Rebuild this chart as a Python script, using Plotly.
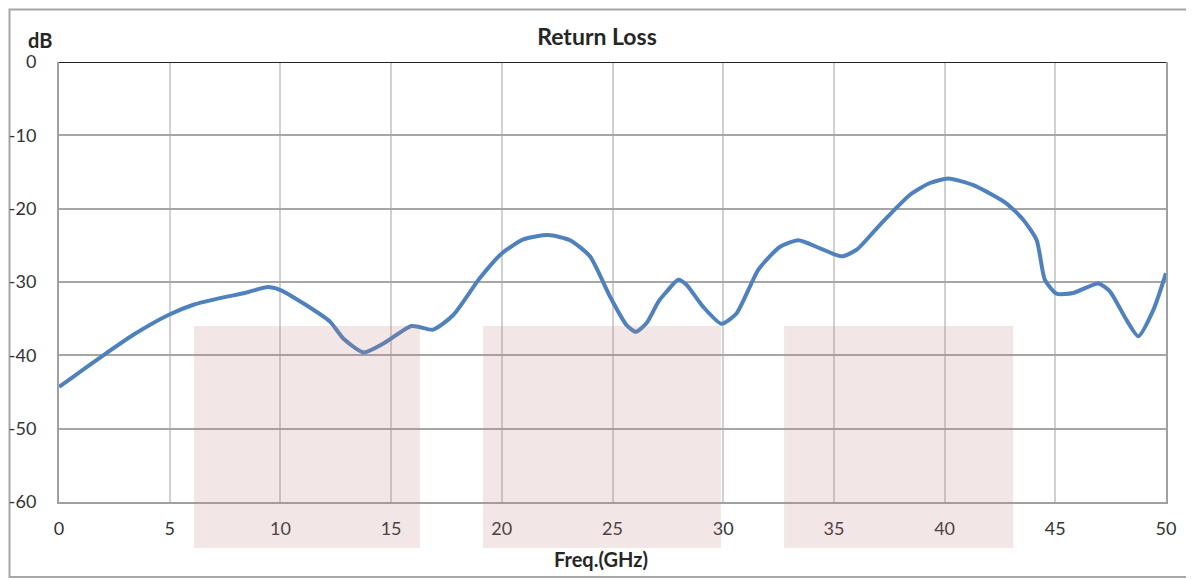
import plotly.graph_objects as go

# Curve data (GHz, dB)
freq = [0.0, 0.42, 2.0, 3.36, 4.94, 6.07, 7.42, 8.4, 9.38, 10.0, 11.03, 12.24, 12.84, 13.75,
        14.65, 15.93, 16.9, 17.81, 19.0, 20.0, 20.97, 22.1, 23.08, 23.98, 24.89, 25.64,
        26.06, 26.54, 27.07, 27.45, 27.97, 28.35, 29.1, 29.93, 30.6, 31.59, 32.57, 33.4,
        34.37, 35.35, 36.03, 37.08, 38.44, 39.34, 40.17, 41.3, 42.8, 43.55, 44.16, 44.53,
        45.06, 45.81, 46.94, 47.47, 48.22, 48.75, 49.43, 50.0]
return_loss = [-44.3, -43.4, -40.0, -37.2, -34.5, -33.1, -32.1, -31.5, -30.7, -31.1, -32.9,
               -35.4, -37.7, -39.6, -38.4, -36.0, -36.5, -34.5, -29.5, -26.1, -24.2, -23.6,
               -24.3, -26.5, -32.0, -35.9, -36.8, -35.6, -32.7, -31.3, -29.7, -30.4, -33.4,
               -35.7, -34.3, -28.3, -25.2, -24.3, -25.4, -26.5, -25.6, -22.2, -18.1, -16.5,
               -15.9, -16.8, -19.3, -21.5, -24.3, -29.7, -31.6, -31.5, -30.2, -31.3, -35.2,
               -37.4, -33.8, -28.8]

# Shaded bands (GHz start, GHz end)
band_start = [6.1, 19.15, 32.75]
band_end = [16.3, 29.9, 43.1]
band_top = -36.0

x_ticks = [0, 5, 10, 15, 20, 25, 30, 35, 40, 45, 50]
y_ticks = [0, -10, -20, -30, -40, -50, -60]

Y_MIN, Y_MAX = -60, 0
FONT = "Lato"
PAGE_OFF = 8  # default body margin of the html page
W, H = 1194 - PAGE_OFF, 580 - PAGE_OFF
PL, PR, PT, PB = 59, 1166, 62, 502  # plot area in page pixels
PW, PH = PR - PL, PB - PT


def px(xp):
    return (xp - PL) / PW


def py(yp):
    return (PB - yp) / PH


fig = go.Figure()
fig.add_trace(go.Scatter(
    x=freq, y=return_loss, mode="lines",
    line=dict(color="#4F81BD", width=4, shape="spline", smoothing=0.6),
    hoverinfo="x+y", showlegend=False,
))

shapes = []
top_paper = (band_top - Y_MIN) / (Y_MAX - Y_MIN)
for s, e in zip(band_start, band_end):
    shapes.append(dict(type="rect", xref="x", yref="paper", x0=s, x1=e,
                       y0=py(548), y1=top_paper,
                       fillcolor="rgba(192,128,128,0.2)", line=dict(width=0), layer="above"))
shapes.append(dict(type="line", xref="paper", yref="y", x0=0, x1=1, y0=0, y1=0,
                   line=dict(color="#222222", width=2.2)))
shapes.append(dict(type="rect", xref="paper", yref="paper",
                   x0=px(9.5), x1=px(1191), y0=py(577), y1=py(9.5),
                   line=dict(color="#A6A6A6", width=2), fillcolor="rgba(0,0,0,0)", layer="below"))

fig.update_layout(
    width=W, height=H,
    margin=dict(l=PL - PAGE_OFF, r=1194 - PR, t=PT - PAGE_OFF, b=580 - PB, autoexpand=False),
    paper_bgcolor="white", plot_bgcolor="white",
    font=dict(family=FONT, size=18, color="#262626"),
    shapes=shapes,
    title=dict(text="<b>Return Loss</b>", x=px(597), xref="paper", xanchor="center",
               y=1 - (37 - PAGE_OFF) / H, yanchor="middle",
               font=dict(size=23, family=FONT, color="#262626")),
    annotations=[
        dict(text="<b>dB</b>", xref="paper", yref="paper", x=px(40), y=py(40),
             xanchor="center", yanchor="middle", showarrow=False,
             font=dict(size=20, family=FONT, color="#262626")),
        dict(text="<b>Freq.(GHz)</b>", xref="paper", yref="paper", x=px(601), y=py(559),
             xanchor="center", yanchor="middle", showarrow=False,
             font=dict(size=20, family=FONT, color="#262626")),
    ],
)
fig.update_xaxes(
    range=[0, 50], tickvals=x_ticks, ticktext=[str(v) for v in x_ticks],
    showgrid=True, gridcolor="#D0D0D0", gridwidth=1.5,
    showline=True, linecolor="#A0A0A0", linewidth=2,
    ticks="", ticklabelstandoff=9, zeroline=False, automargin=False,
    tickfont=dict(size=18, family=FONT, color="#333333"),
)
fig.update_yaxes(
    range=[Y_MIN, Y_MAX], tickvals=y_ticks, ticktext=[str(v) for v in y_ticks],
    showgrid=True, gridcolor="#A6A6A6", gridwidth=1.5,
    showline=True, linecolor="#A0A0A0", linewidth=2, mirror=True,
    ticks="", ticklabelstandoff=17, zeroline=False, automargin=False,
    tickfont=dict(size=18, family=FONT, color="#333333"),
)

fig.write_html("out.html")
